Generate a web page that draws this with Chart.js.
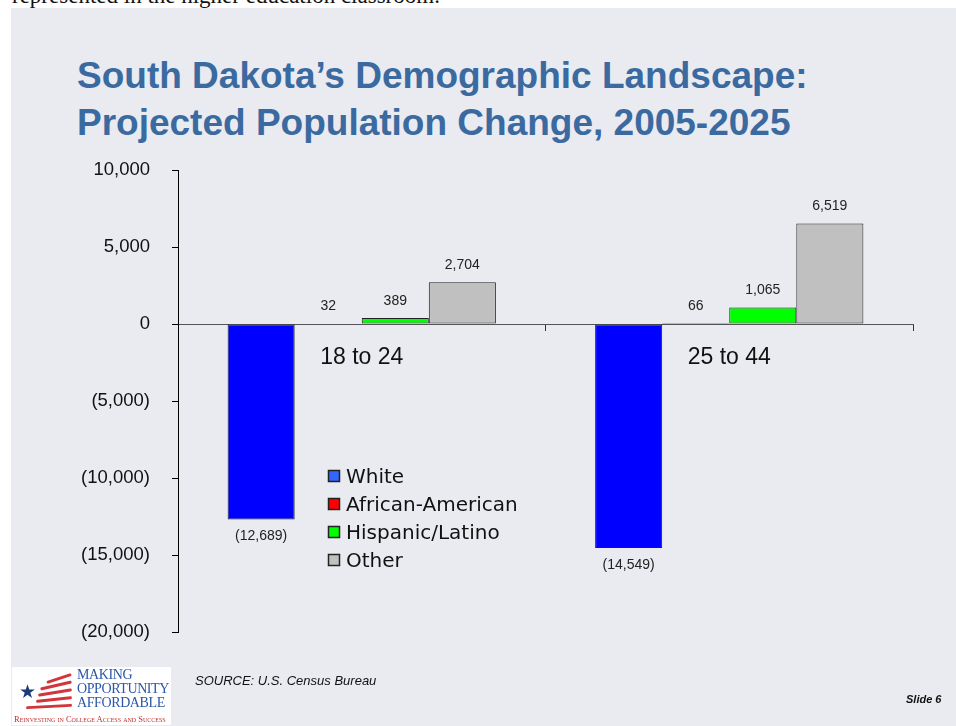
<!DOCTYPE html>
<html>
<head>
<meta charset="utf-8">
<script src="https://cdn.jsdelivr.net/npm/chart.js@4.4.1/dist/chart.umd.min.js"></script>
<style>
  body { margin: 0; background: #fff; width: 956px; height: 726px; overflow: hidden; position: relative; }
  .above { position: absolute; left: 12px; top: -17px; font: 23px "Liberation Serif", "Times New Roman", serif; color: #111; white-space: nowrap; }
  .slide { position: absolute; left: 11px; top: 8px; width: 945px; height: 718px; background: #e9ebf0; }
  .title { position: absolute; left: 77px; top: 52px; font: bold 37px "Liberation Sans", Arial, sans-serif; color: #3a6aa0; line-height: 47px; white-space: nowrap; }
  canvas { position: absolute; left: 0; top: 0; }
  .source { position: absolute; left: 195px; top: 673px; font: italic 13px "Liberation Sans", Arial, sans-serif; color: #111; }
  .slideno { position: absolute; left: 906px; top: 693px; font: italic bold 11px "Liberation Sans", Arial, sans-serif; color: #111; }
  .logo { position: absolute; left: 12px; top: 667px; width: 159px; height: 58px; background: #fff; overflow: hidden; }
  .logo .txt { position: absolute; left: 65px; top: 1px; font: 14px/14px "Liberation Serif", serif; color: #2b57a8; letter-spacing: -0.4px; }
  .logo .star { position: absolute; left: 7px; top: 13px; font: 19px "DejaVu Sans", sans-serif; color: #1d3a78; }
  .logo .stripe { position: absolute; height: 3px; background: #d2353b; border-radius: 2px; }
  .logo .sub { position: absolute; left: 2px; top: 47px; font: 8.5px "Liberation Serif", serif; color: #c0302f; white-space: nowrap; font-variant: small-caps; }
</style>
</head>
<body>
<div class="above">represented in the higher education classroom.</div>
<div class="slide"></div>
<div class="title">South Dakota’s Demographic Landscape:<br>Projected Population Change, 2005-2025</div>
<canvas id="grafica" width="956" height="726"></canvas>
<div class="source">SOURCE: U.S. Census Bureau</div>
<div class="slideno">Slide 6</div>
<div class="logo">
  <div class="stripe" style="left:34px;top:10px;width:26px;transform:rotate(-18deg)"></div>
  <div class="stripe" style="left:28px;top:17px;width:32px;transform:rotate(-13deg)"></div>
  <div class="stripe" style="left:26px;top:24px;width:34px;transform:rotate(-9deg)"></div>
  <div class="stripe" style="left:24px;top:31px;width:36px;transform:rotate(-6deg)"></div>
  <div class="stripe" style="left:14px;top:38px;width:46px;transform:rotate(-3deg)"></div>
  <div class="star">★</div>
  <div class="txt">MAKING<br>OPPORTUNITY<br>AFFORDABLE</div>
  <div class="sub">Reinvesting in College Access and Success</div>
</div>
<script>
const grupos = ['18 to 24', '25 to 44'];
const series = ['White', 'African-American', 'Hispanic/Latino', 'Other'];
const blancos = [-12689, -14549];
const afroamericanos = [32, 66];
const hispanos = [389, 1065];
const otros = [2704, 6519];
const ticksY = [10000, 5000, 0, -5000, -10000, -15000, -20000];

const colores = ['#0000ff', '#ff0000', '#00ff00', '#c0c0c0'];
const coloresLeyenda = ['#3366ff', '#ff0000', '#00ff00', '#c0c0c0'];

function formato(v) {
    const s = Math.abs(v).toLocaleString('en-US');
    return v < 0 ? '(' + s + ')' : s;
}

// valores encima / debajo de cada barra
const etiquetas = {
    id: 'etiquetas',
    afterDatasetsDraw(chart) {
        const ctx = chart.ctx;
        ctx.save();
        ctx.font = '14px "Liberation Sans", Arial, sans-serif';
        ctx.fillStyle = '#222';
        ctx.textAlign = 'center';
        ctx.textBaseline = 'middle';
        chart.data.datasets.forEach((ds, i) => {
            chart.getDatasetMeta(i).data.forEach((bar, j) => {
                const v = ds.data[j];
                ctx.fillText(formato(v), bar.x, v < 0 ? bar.y + 17 : bar.y - 17);
            });
        });
        ctx.restore();
    }
};

// leyenda dentro del area del grafico
const leyenda = {
    id: 'leyenda',
    afterDraw(chart) {
        const ctx = chart.ctx;
        ctx.save();
        ctx.font = '20px "DejaVu Sans", sans-serif';
        ctx.textBaseline = 'middle';
        chart.data.datasets.forEach((ds, i) => {
            const y = 477 + i * 28;
            ctx.fillStyle = coloresLeyenda[i];
            ctx.fillRect(328.5, y - 6.5, 11, 11);
            ctx.strokeStyle = '#222';
            ctx.lineWidth = 1.5;
            ctx.strokeRect(328.5, y - 6.5, 11, 11);
            ctx.fillStyle = '#111';
            ctx.fillText(ds.label, 346, y + 1);
        });
        ctx.restore();
    }
};

new Chart(document.getElementById('grafica'), {
    type: 'bar',
    data: {
        labels: grupos,
        datasets: [blancos, afroamericanos, hispanos, otros].map((d, i) => ({
            label: series[i],
            data: d,
            backgroundColor: colores[i],
            borderColor: '#222',
            borderWidth: 1,
            borderSkipped: false,
            categoryPercentage: 0.73,
            barPercentage: 1
        }))
    },
    options: {
        responsive: false,
        animation: false,
        layout: { padding: { left: 0, right: 43, top: 170, bottom: 94 } },
        plugins: { legend: { display: false }, tooltip: { enabled: false } },
        scales: {
            x: {
                position: { y: 0 },
                grid: { drawOnChartArea: false, tickLength: 6, color: '#333', offset: true },
                border: { color: '#555', width: 1 },
                ticks: { color: '#111', padding: 14, font: { family: '"Liberation Sans", Arial, sans-serif', size: 23 } }
            },
            y: {
                min: -20000,
                max: 10000,
                afterFit(scale) { scale.width = 178; },
                afterBuildTicks(scale) { scale.ticks = ticksY.map(v => ({ value: v })); },
                grid: { drawOnChartArea: false, tickLength: 6, color: '#000' },
                border: { color: '#000', width: 1 },
                ticks: {
                    color: '#111',
                    padding: 22,
                    font: { family: '"Liberation Sans", Arial, sans-serif', size: 18.5 },
                    callback: v => formato(v)
                }
            }
        }
    },
    plugins: [etiquetas, leyenda]
});
</script>
</body>
</html>
